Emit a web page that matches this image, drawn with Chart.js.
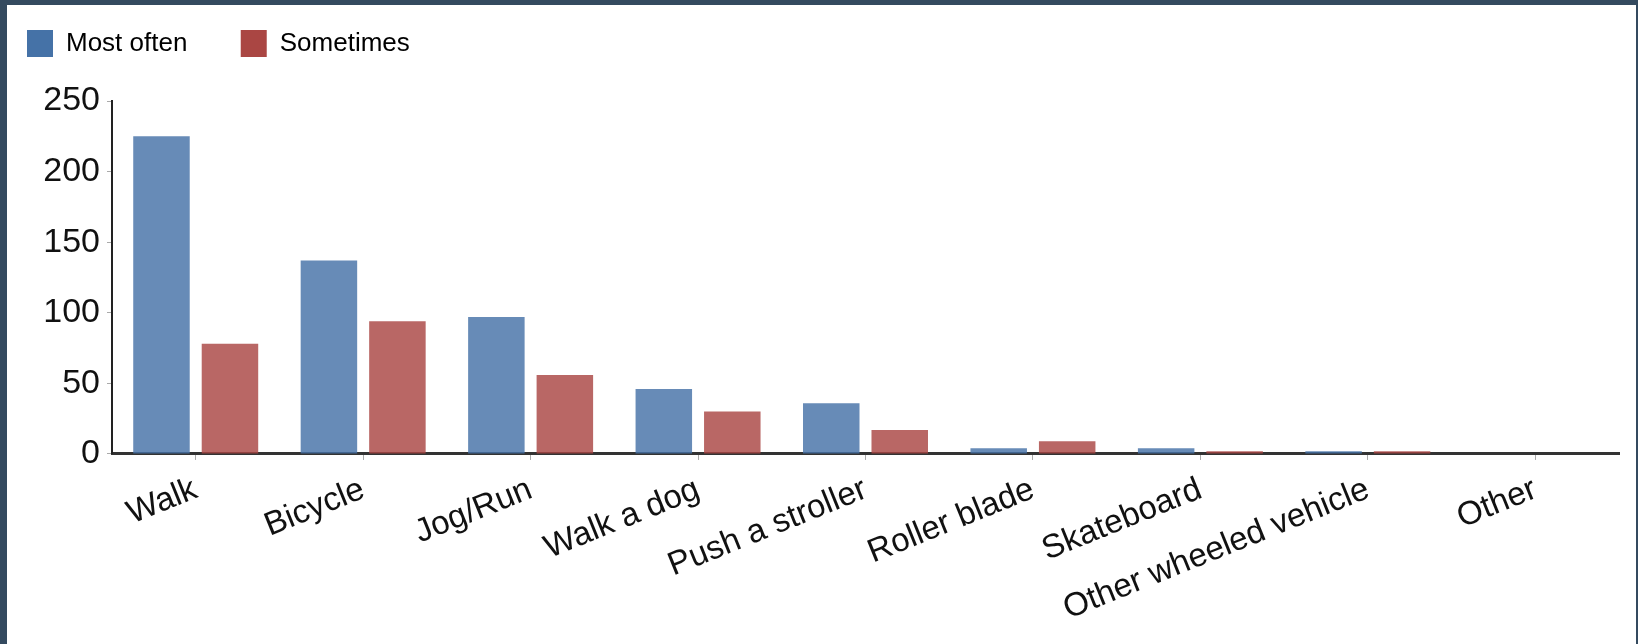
<!DOCTYPE html>
<html>
<head>
<meta charset="utf-8">
<script src="https://cdn.jsdelivr.net/npm/chart.js@4.4.0/dist/chart.umd.min.js"></script>
<style>
  html, body { margin: 0; padding: 0; background: #344a5f; }
  #frame { position: absolute; left: 7px; top: 5px; width: 1629px; height: 639px; background: #fff; }
</style>
</head>
<body>
<div id="frame"><canvas id="barChart" width="1629" height="639"></canvas></div>
<script>
const activities = ['Walk', 'Bicycle', 'Jog/Run', 'Walk a dog', 'Push a stroller', 'Roller blade', 'Skateboard', 'Other wheeled vehicle', 'Other'];
const mostOften = [225, 137, 97, 46, 36, 4, 4, 2, 0];
const sometimes = [78, 94, 56, 30, 17, 9, 2, 2, 0];
const yTicks = [0, 50, 100, 150, 200, 250];

const FONT = 'Liberation Sans, Arial, Helvetica, sans-serif';

// push the plot down a bit below the legend
const legendGap = {
    id: 'legendGap',
    beforeInit(chart) {
        const origFit = chart.legend.fit;
        chart.legend.fit = function () {
            origFit.bind(chart.legend)();
            this.height += 34;
        };
    }
};

const data_bar = {
    labels: activities,
    datasets: [
        {
            label: 'Most often',
            data: mostOften,
            backgroundColor: 'rgba(69, 114, 167, 0.82)',
            legendColor: '#4572a7',
            barPercentage: 0.825,
            categoryPercentage: 0.818,
        },
        {
            label: 'Sometimes',
            data: sometimes,
            backgroundColor: 'rgba(170, 70, 67, 0.82)',
            legendColor: '#aa4643',
            barPercentage: 0.825,
            categoryPercentage: 0.818,
        },
    ]
};

const barChart_config = {
    type: 'bar',
    data: data_bar,
    options: {
        responsive: false,
        animation: false,
        layout: {
            padding: { top: 15, left: 10, right: 17, bottom: 5 }
        },
        scales: {
            x: {
                grid: {
                    display: true,
                    drawOnChartArea: false,
                    offset: false,
                    tickLength: 6,
                    color: '#aaa',
                },
                border: { color: '#333', width: 3 },
                ticks: {
                    autoSkip: false,
                    minRotation: 22,
                    maxRotation: 22,
                    padding: 10,
                    color: '#111',
                    font: { family: FONT, size: 33 }
                }
            },
            y: {
                min: 0,
                max: 250,
                afterFit: (scale) => { scale.width = 95; },
                afterBuildTicks: (scale) => { scale.ticks = yTicks.map(v => ({ value: v })); },
                grid: {
                    display: true,
                    drawOnChartArea: false,
                    tickLength: 5,
                    color: '#aaa',
                },
                border: { color: '#222', width: 2 },
                ticks: {
                    padding: 7,
                    color: '#111',
                    font: { family: FONT, size: 34 }
                }
            }
        },
        plugins: {
            legend: {
                position: 'top',
                align: 'start',
                labels: {
                    boxWidth: 26,
                    boxHeight: 27,
                    padding: 10,
                    color: '#222',
                    font: { family: FONT, size: 26 },
                    generateLabels: (chart) => chart.data.datasets.map((ds, i) => ({
                        text: ds.label + (i === 0 ? '\u00a0\u00a0\u00a0\u00a0\u00a0\u00a0' : ''),
                        fillStyle: ds.legendColor,
                        strokeStyle: ds.legendColor,
                        lineWidth: 0,
                        datasetIndex: i,
                        hidden: !chart.isDatasetVisible(i),
                    }))
                }
            },
            tooltip: { enabled: false }
        }
    },
    plugins: [legendGap]
};

new Chart(document.getElementById('barChart'), barChart_config);
</script>
</body>
</html>
